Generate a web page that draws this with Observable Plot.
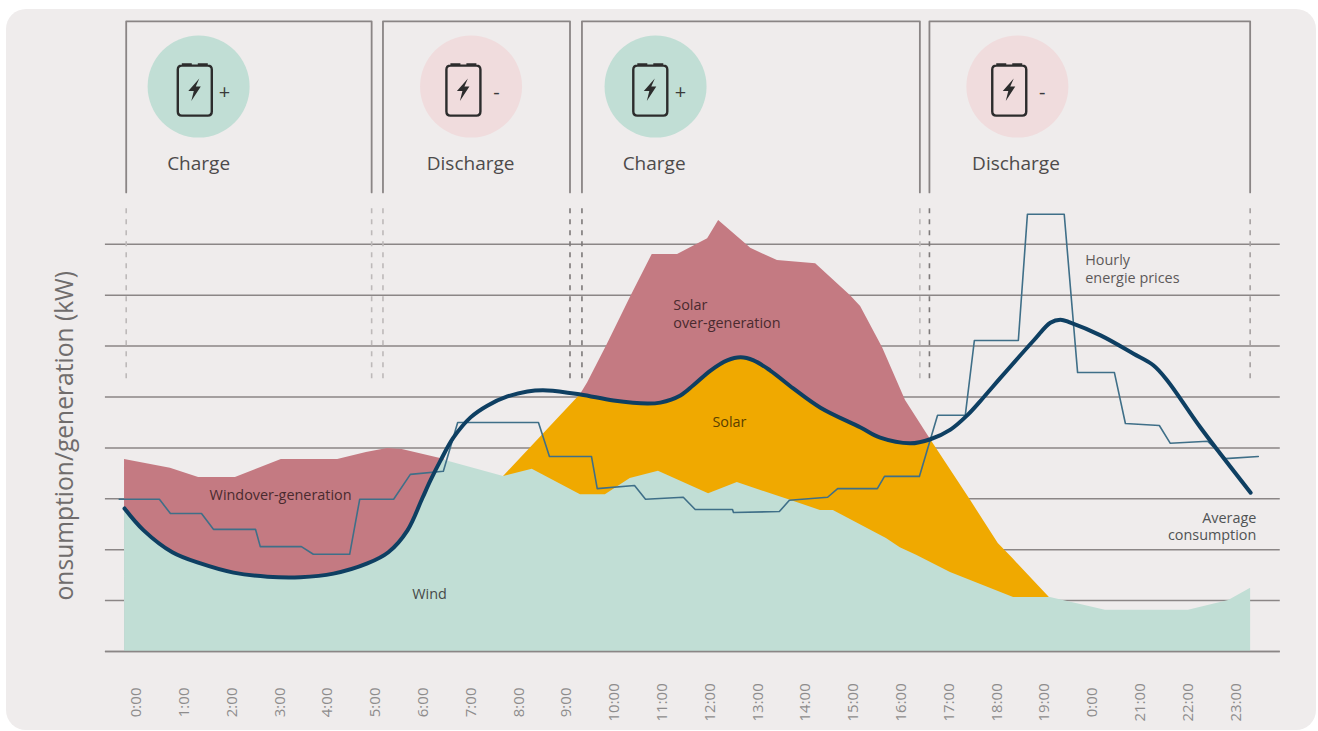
<!DOCTYPE html>
<html>
<head>
<meta charset="utf-8">
<script src="https://cdn.jsdelivr.net/npm/d3@7"></script>
<script src="https://cdn.jsdelivr.net/npm/@observablehq/plot@0.6"></script>
<style>
  html, body { margin: 0; padding: 0; background: #fff; width: 1318px; height: 731px; overflow: hidden; }
  #card { position: absolute; left: 6px; top: 9px; width: 1310px; height: 721px; border-radius: 20px; background: #efecec; }
  #chart { position: absolute; left: 0; top: 0; }
  svg { display: block; }
</style>
</head>
<body>
<div id="card"></div>
<div id="chart"></div>
<script>
// Hours of the day, axis labels (the reference prints 0:00 in the 20:00 slot)
const hourLabels = ["0:00","1:00","2:00","3:00","4:00","5:00","6:00","7:00","8:00","9:00","10:00","11:00","12:00","13:00","14:00","15:00","16:00","17:00","18:00","19:00","0:00","21:00","22:00","23:00"];
const gridKw = [0,1,2,3,4,5,6,7,8];

// Wind generation
const windX = [-0.25,0.71,1.30,2.07,3.03,4.21,4.81,5.25,5.56,6.36,6.46,7.68,8.28,9.29,9.81,10.33,10.92,11.97,12.57,13.68,14.31,14.58,15.69,15.98,16.32,17.03,18.35,19.12,20.27,22.01,22.85,23.31];
const windY = [3.77,3.60,3.42,3.42,3.77,3.77,3.91,3.99,3.97,3.79,3.75,3.44,3.58,3.08,3.08,3.40,3.54,3.10,3.32,2.97,2.77,2.77,2.22,2.04,1.89,1.55,1.06,1.06,0.81,0.81,1.00,1.24];

// Average consumption
const consX = [-0.25,0.15,0.75,1.34,2.03,2.74,3.43,4.12,4.83,5.27,5.67,5.98,6.15,6.36,6.63,6.99,7.34,7.76,8.18,8.60,9.29,9.98,10.69,10.96,11.38,11.65,12.01,12.36,12.64,12.91,13.26,13.74,14.31,15.15,15.56,16.19,16.61,17.03,17.38,17.72,18.08,18.77,19.12,19.33,19.54,20.17,20.86,21.28,21.57,22.26,23.31];
const consY = [2.81,2.38,1.95,1.73,1.55,1.47,1.46,1.53,1.73,1.95,2.38,3.01,3.36,3.75,4.20,4.60,4.83,5.01,5.11,5.13,5.05,4.93,4.87,4.89,5.03,5.23,5.52,5.72,5.78,5.72,5.52,5.17,4.79,4.40,4.20,4.09,4.17,4.36,4.64,4.99,5.38,6.11,6.46,6.52,6.46,6.21,5.85,5.62,5.32,4.40,3.12];

// Solar: total generation (over-generation edge) and flanks of the served part
const solarTopX = [9.29,9.44,9.85,10.33,10.79,11.32,11.95,12.18,12.78,12.85,13.41,14.21,14.94,15.15,15.61,16.09,16.61];
const solarTopY = [5.05,5.28,6.03,6.95,7.80,7.80,8.11,8.47,7.98,7.92,7.68,7.62,6.99,6.78,5.97,4.93,4.17];
const solarRiseX = [7.68];
const solarRiseY = [3.44];
const solarFallX = [17.45,18.03,18.33,19.12];
const solarFallY = [2.97,2.12,1.83,1.04];

// Hourly energy prices
const priceX = [-0.36,0.48,0.71,1.36,1.61,2.49,2.59,3.45,3.70,4.46,4.67,5.38,5.73,6.42,6.72,8.41,8.64,9.52,9.64,10.42,10.65,11.44,11.69,12.47,12.49,13.45,13.66,14.46,14.67,15.50,15.65,16.38,16.76,17.34,17.53,18.45,18.64,19.41,19.69,20.46,20.69,21.40,21.63,22.41,22.78,23.47];
const priceY = [2.99,2.99,2.71,2.71,2.40,2.40,2.06,2.06,1.91,1.91,2.99,2.99,3.48,3.54,4.50,4.50,3.83,3.83,3.20,3.26,2.99,3.03,2.79,2.79,2.73,2.75,2.97,3.03,3.20,3.20,3.44,3.44,4.64,4.64,6.11,6.11,8.59,8.59,5.48,5.48,4.48,4.44,4.09,4.13,3.79,3.83];

// Charge / discharge phases
const phaseNames = ["Charge","Discharge","Charge","Discharge"];
const phaseSigns = ["+","-","+","-"];
const phaseStart = [-0.215,5.157,9.32,16.59];
const phaseEnd = [4.92,9.07,16.39,23.3];
const phaseCircleX = [1.30,7.00,10.86,18.43];
const phaseBatteryX = [1.22,6.84,10.75,18.26];
const phaseSignX = [1.84,7.53,11.38,18.95];
const phaseColors = ["#c1ded5","#f0dcdd","#c1ded5","#f0dcdd"];
const phaseLabelX = [1.30,6.99,10.83,18.40];
const dashLight = [-0.215,4.92,5.157,16.39];
const dashDark = [9.07,9.32,16.59];
const dashEnd = [23.3];

// Annotations
const noteText = ["Windover-generation","Wind","Solar","over-generation","Solar","Hourly","energie prices"];
const noteX = [1.53,5.77,11.23,11.23,12.05,19.85,19.85];
const noteY = [3.06,1.12,6.80,6.44,4.50,7.68,7.33];
const noteColor = ["#4a2a2f","#474a48","#4a2a2f","#4a2a2f","#5a4000","#5d5959","#5d5959"];
const endText = ["Average","consumption"];
const endX = [23.43,23.43];
const endY = [2.61,2.28];

const rows = (xs, ys) => xs.map((x, i) => ({x, y: ys[i]}));
const font = "Open Sans";
const indices = a => a.map((_, i) => i);

const consRows = rows(consX, consY);
const windRows = rows(windX, windY);
// Mint: follows consumption while wind over-generates, then the wind edge itself
const windServed = [...consRows.filter(d => d.x <= 6.36), ...windRows.filter(d => d.x >= 6.46)];
const windOver = windRows.filter(d => d.x <= 6.46);
const solarServed = [
  ...rows(solarRiseX, solarRiseY),
  ...consRows.filter(d => d.x >= 9.29 && d.x <= 16.61),
  ...rows(solarFallX, solarFallY)
];
const solarOver = rows(solarTopX, solarTopY);

const batteryBody = {
  draw(c) {
    const w = 17, t = -25, b = 25, r = 4;
    c.moveTo(-w + r, t);
    c.lineTo(w - r, t);
    c.quadraticCurveTo(w, t, w, t + r);
    c.lineTo(w, b - r);
    c.quadraticCurveTo(w, b, w - r, b);
    c.lineTo(-w + r, b);
    c.quadraticCurveTo(-w, b, -w, b - r);
    c.lineTo(-w, t + r);
    c.quadraticCurveTo(-w, t, -w + r, t);
    c.closePath();
    c.moveTo(-13, t - 1.2);
    c.lineTo(-3, t - 1.2);
    c.moveTo(3, t - 1.2);
    c.lineTo(13, t - 1.2);
  }
};
const batteryBolt = {
  draw(c) {
    c.moveTo(4.5, -12);
    c.lineTo(-6.5, 0.5);
    c.lineTo(-1, 0.5);
    c.lineTo(-3.5, 10.5);
    c.lineTo(6, -4);
    c.lineTo(1, -4);
    c.closePath();
  }
};

const chart = Plot.plot({
  width: 1318,
  height: 731,
  margin: 0,
  style: {background: "transparent", fontFamily: font},
  x: {domain: [-2.845, 24.73], range: [0, 1318], axis: null},
  y: {domain: [-1.572, 12.79], range: [731, 0], axis: null},
  marks: [
    // Grid
    Plot.ruleY(gridKw, {x1: -0.65, x2: 23.93, stroke: "#8b8686", strokeWidth: 1.5}),
    // Areas
    Plot.areaY(windOver, {x: "x", y1: 0, y2: "y", fill: "#c47a82"}),
    Plot.areaY(solarOver, {x: "x", y1: 0, y2: "y", fill: "#c47a82"}),
    Plot.areaY(solarServed, {x: "x", y1: 0, y2: "y", fill: "#f0a900"}),
    Plot.areaY(windServed, {x: "x", y1: 0, y2: "y", fill: "#c1ded5"}),
    Plot.ruleY([0], {x1: -0.65, x2: 23.93, stroke: "#8b8686", strokeWidth: 1.5}),
    // Phase brackets
    ...phaseStart.map((s, i) => Plot.line(
      [[s, 9.02], [s, 12.38], [phaseEnd[i], 12.38], [phaseEnd[i], 9.02]],
      {x: d => d[0], y: d => d[1], stroke: "#8a8585", strokeWidth: 1.8, strokeLinejoin: "round"}
    )),
    Plot.ruleX(dashLight, {y1: 5.36, y2: 8.76, stroke: "#bdb9b9", strokeWidth: 1.6, strokeDasharray: "5,6"}),
    Plot.ruleX(dashDark, {y1: 5.36, y2: 8.76, stroke: "#7d7979", strokeWidth: 1.6, strokeDasharray: "5,6"}),
    Plot.ruleX(dashEnd, {y1: 5.36, y2: 8.76, stroke: "#a5a1a1", strokeWidth: 1.6, strokeDasharray: "5,6"}),
    // Phase icons
    Plot.dot(indices(phaseNames), {x: i => phaseCircleX[i], y: 11.10, r: 51, fill: i => phaseColors[i], stroke: "none"}),
    Plot.dot(phaseBatteryX, {x: d => d, y: 11.02, symbol: batteryBody, fill: "none", stroke: "#2c2c2c", strokeWidth: 2.4}),
    Plot.dot(phaseBatteryX, {x: d => d, y: 11.02, symbol: batteryBolt, fill: "#2c2c2c", stroke: "none"}),
    Plot.text(phaseSigns, {x: (_, i) => phaseSignX[i], y: 10.98, text: d => d, fontFamily: font, fontSize: 20, fill: "#3a3a3a"}),
    Plot.text(phaseNames, {x: (_, i) => phaseLabelX[i], y: 9.58, text: d => d, fontFamily: font, fontSize: 19, fill: "#4d4a4a"}),
    // Lines
    Plot.line(rows(priceX, priceY), {x: "x", y: "y", stroke: "#3f6f88", strokeWidth: 1.6, strokeLinejoin: "round"}),
    Plot.line(consRows, {x: "x", y: "y", curve: "catmull-rom", stroke: "#0e3f62", strokeWidth: 4, strokeLinecap: "round"}),
    // Notes
    Plot.text(noteText, {x: (_, i) => noteX[i], y: (_, i) => noteY[i], text: d => d, textAnchor: "start", fontFamily: font, fontSize: 14.4, fill: (_, i) => noteColor[i]}),
    Plot.text(endText, {x: (_, i) => endX[i], y: (_, i) => endY[i], text: d => d, textAnchor: "end", fontFamily: font, fontSize: 14.4, fill: "#4f5354"}),
    // Axis labels
    Plot.text(hourLabels, {x: (_, i) => i, y: -1, text: d => d, rotate: -90, fontFamily: font, fontSize: 15, fill: "#8e8c8c"}),
    Plot.text(["onsumption/generation (kW)"], {x: -1.5, y: 4.24, text: d => d, rotate: -90, fontFamily: font, fontSize: 24.6, fill: "#706c6c"})
  ]
});
document.getElementById("chart").appendChild(chart);
</script>
</body>
</html>
